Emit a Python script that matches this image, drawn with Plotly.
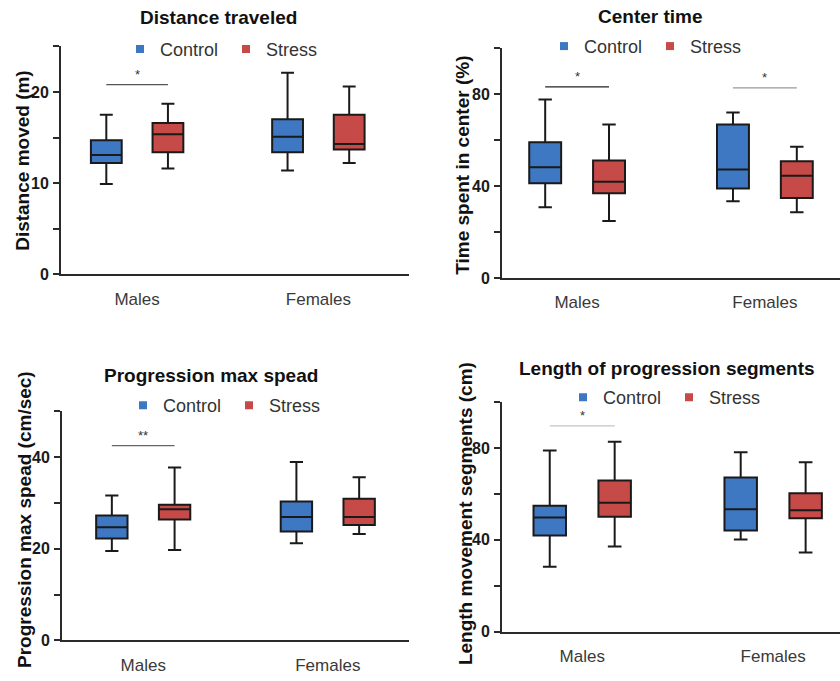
import plotly.graph_objects as go

groups = ["Males", "Females"]
conditions = ["Control", "Stress"]
colors = {"Control": "#3e77c2", "Stress": "#c54a48"}

titles = ["Distance traveled", "Center time", "Progression max spead", "Length of progression segments"]
ytitles = ["Distance moved (m)", "Time spent in center (%)", "Progression max spead (cm/sec)", "Length movement segments (cm)"]
yranges = [25, 100, 50, 100]
ymajor = [10, 40, 20, 40]
yminor = [5, 20, 10, 20]

# box stats per panel: [condition][group] -> (low, q1, median, q3, high)
p1_control = [(9.9, 12.2, 13.1, 14.7, 17.5), (11.4, 13.4, 15.1, 17.0, 22.1)]
p1_stress = [(11.6, 13.4, 15.35, 16.6, 18.7), (12.2, 13.7, 14.3, 17.5, 20.6)]
p2_control = [(30.8, 41.3, 48.2, 59.1, 77.7), (33.4, 39.0, 47.2, 66.8, 72.1)]
p2_stress = [(24.8, 36.9, 41.9, 51.2, 66.8), (28.6, 34.8, 44.5, 50.8, 57.1)]
p3_control = [(19.5, 22.25, 24.7, 27.25, 31.6), (21.2, 23.75, 26.9, 30.3, 38.9)]
p3_stress = [(19.7, 26.4, 28.6, 29.6, 37.7), (23.2, 25.2, 26.9, 30.9, 35.6)]
p4_control = [(28.3, 41.9, 49.7, 54.9, 79.0), (40.2, 44.1, 53.4, 67.2, 78.2)]
p4_stress = [(37.1, 50.1, 56.2, 65.9, 82.8), (34.5, 49.4, 52.9, 60.3, 73.8)]
panels = [
    {"Control": p1_control, "Stress": p1_stress},
    {"Control": p2_control, "Stress": p2_stress},
    {"Control": p3_control, "Stress": p3_stress},
    {"Control": p4_control, "Stress": p4_stress},
]

# significance: (panel, group index, label, y value, line colour)
sig_panel = [0, 1, 1, 2, 3]
sig_group = [0, 0, 1, 0, 0]
sig_label = ["*", "*", "*", "**", "*"]
sig_y = [20.8, 83.2, 82.8, 42.5, 89.7]
sig_color = ["#555555", "#222222", "#999999", "#666666", "#c4c4c4"]

# layout geometry (paper fractions)
W, H = 840, 681
xdom = [(61 / W, 409 / W), (502 / W, 1.0), (62 / W, 409 / W), (502 / W, 1.0)]
ydom = [(1 - 278 / H, 1 - 47 / H), (1 - 281.7 / H, 1 - 49 / H),
        (1 - 649 / H, 1 - 416.7 / H), (1 - 640 / H, 1 - 407.7 / H)]
xranges = [(-0.42, 1.5), (-0.40, 1.40), (-0.44, 1.44), (-0.42, 1.35)]
title_pos = [(218, 18), (650, 17), (211, 381), (667, 373)]
ytitle_pos = [(23, 163), (463, 168), (24, 527), (465, 521)]
legend_pos = [(120, 50), (544, 47), (123, 411), (563, 403)]

BOXGAP = 0.32
offset = (1 - BOXGAP) / 4

fig = go.Figure()
layout = dict(
    width=W, height=H, margin=dict(l=0, r=0, t=0, b=0),
    paper_bgcolor="white", plot_bgcolor="white",
    boxmode="group", boxgap=BOXGAP, boxgroupgap=0.5,
    font=dict(family="Liberation Sans, Arial, sans-serif", color="#333333"),
    showlegend=True,
)
annotations = []
shapes = []

for i, data in enumerate(panels):
    k = "" if i == 0 else str(i + 1)
    xa, ya = "x" + k, "y" + k
    leg = "legend" + k
    for c in conditions:
        stats = data[c]
        fig.add_trace(go.Box(
            x=groups,
            lowerfence=[s[0] for s in stats], q1=[s[1] for s in stats],
            median=[s[2] for s in stats], q3=[s[3] for s in stats],
            upperfence=[s[4] for s in stats],
            name=c, offsetgroup=c, fillcolor=colors[c],
            line=dict(color="#1a1a1a", width=2), whiskerwidth=0.42,
            boxpoints=False, showlegend=False, xaxis=xa, yaxis=ya,
            hoverinfo="skip",
        ))
    for c in conditions:
        fig.add_trace(go.Scatter(
            x=[None], y=[None], mode="markers", name=c,
            marker=dict(symbol="square", size=8, color=colors[c]),
            xaxis=xa, yaxis=ya, legend=leg, showlegend=True,
        ))
    tv = list(range(0, yranges[i] + 1, yminor[i]))
    tt = ["<b>%d</b>" % v if v % ymajor[i] == 0 else "" for v in tv]
    layout["xaxis" + k] = dict(
        domain=xdom[i], anchor=ya, range=list(xranges[i]), type="category",
        categoryorder="array", categoryarray=groups,
        showline=True, linecolor="#2a2a2a", linewidth=2, ticks="",
        showgrid=False, zeroline=False, ticklabelstandoff=8,
        tickfont=dict(size=17, color="#3a3a3a"),
    )
    layout["yaxis" + k] = dict(
        domain=ydom[i], anchor=xa, range=[0, yranges[i]],
        tickvals=tv, ticktext=tt, ticks="outside", ticklen=6, tickwidth=2,
        tickcolor="#2a2a2a", showline=True, linecolor="#2a2a2a", linewidth=2,
        showgrid=False, zeroline=False, ticklabelstandoff=1,
        tickfont=dict(size=16, color="#1a1a1a"),
    )
    layout[leg] = dict(
        orientation="h", x=legend_pos[i][0] / W, y=1 - legend_pos[i][1] / H,
        xanchor="left", yanchor="middle", bgcolor="rgba(0,0,0,0)",
        font=dict(size=18, color="#333333"), itemwidth=30, entrywidth=61,
        tracegroupgap=0,
    )
    annotations.append(dict(
        text="<b>" + titles[i] + "</b>", x=title_pos[i][0] / W, y=1 - title_pos[i][1] / H,
        xref="paper", yref="paper", showarrow=False, xanchor="center", yanchor="middle",
        font=dict(size=19, color="#111111"),
    ))
    annotations.append(dict(
        text="<b>" + ytitles[i] + "</b>", x=ytitle_pos[i][0] / W, y=1 - ytitle_pos[i][1] / H,
        xref="paper", yref="paper", showarrow=False, textangle=-90,
        xanchor="center", yanchor="middle", font=dict(size=19, color="#111111"),
    ))

for p, g, lab, yv, col in zip(sig_panel, sig_group, sig_label, sig_y, sig_color):
    k = "" if p == 0 else str(p + 1)
    shapes.append(dict(type="line", xref="x" + k, yref="y" + k,
                       x0=g - offset, x1=g + offset, y0=yv, y1=yv,
                       line=dict(color=col, width=1.3)))
    annotations.append(dict(text=lab, xref="x" + k, yref="y" + k, x=g, y=yv,
                            showarrow=False, yanchor="bottom", yshift=1,
                            font=dict(size=13, color="#333333")))

layout["annotations"] = annotations
layout["shapes"] = shapes
fig.update_layout(**layout)
fig.write_html("out.html")
